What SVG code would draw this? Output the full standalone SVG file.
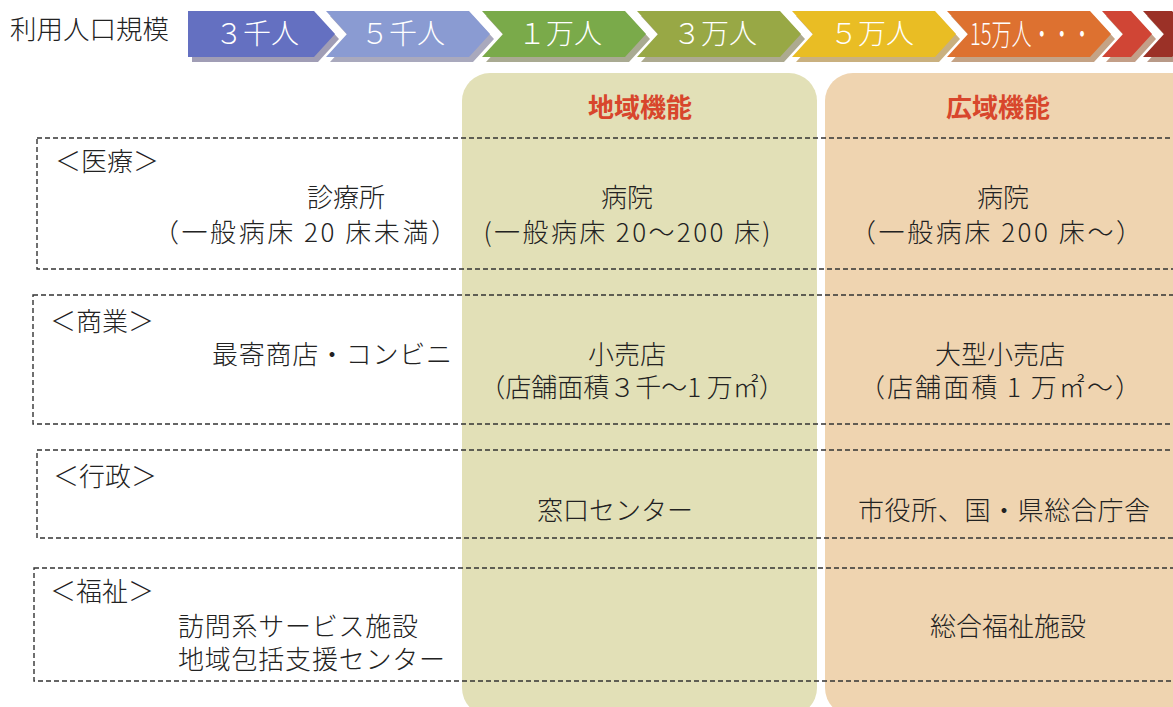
<svg xmlns="http://www.w3.org/2000/svg" width="1173" height="707" viewBox="0 0 1173 707">
<style>
.t{font-family:"Noto Sans CJK JP","Noto Sans",sans-serif;font-size:26px;font-weight:300;fill:#222;}
.c{text-anchor:middle;}
.w{font-family:"Noto Sans CJK JP","Noto Sans",sans-serif;font-size:28px;font-weight:300;fill:#fff;text-anchor:middle;}
.h{font-family:"Noto Sans CJK JP","Noto Sans",sans-serif;font-size:26px;font-weight:bold;fill:#D8462C;text-anchor:middle;}
.box{fill:none;stroke:#333;stroke-width:1.4;stroke-dasharray:5 3;}
</style>
<rect width="1173" height="707" fill="#fff"/>
<g id="columns">
<rect id="col-local" x="462" y="73" width="355" height="643" rx="28" fill="#E2E0B7"/>
<rect id="col-wide" x="825" y="73" width="380" height="643" rx="28" fill="#EFD4B0"/>
<text class="h" x="640" y="117">地域機能</text>
<text class="h" x="998" y="117">広域機能</text>
</g>
<g id="scale">
<text class="t" x="10" y="39" style="font-size:26.5px">利用人口規模</text>
<g id="shadows" transform="translate(4,5)">
<polygon fill="#A09DB5" points="188,11 314,11 335,34 314,57 188,57"/>
<polygon fill="#A9A9BD" points="326,11 469,11 490,34 469,57 326,57 347,34"/>
<polygon fill="#A9AA92" points="482,11 625,11 646,34 625,57 482,57 503,34"/>
<polygon fill="#ADAA90" points="637,11 780,11 801,34 780,57 637,57 658,34"/>
<polygon fill="#C9B07F" points="792,11 935,11 956,34 935,57 792,57 813,34"/>
<polygon fill="#C4A386" points="947,11 1090,11 1111,34 1090,57 947,57 968,34"/>
<polygon fill="#C39F88" points="1102,11 1131,11 1152,34 1131,57 1102,57 1123,34"/>
<polygon fill="#B89A88" points="1143,11 1172,11 1193,34 1172,57 1143,57 1164,34"/>
</g>
<g id="arrow1"><polygon fill="#6470C1" points="188,11 314,11 335,34 314,57 188,57"/><text class="w" x="257" y="44">３千人</text></g>
<g id="arrow2"><polygon fill="#8A9BD2" points="326,11 469,11 490,34 469,57 326,57 347,34"/><text class="w" x="403" y="44">５千人</text></g>
<g id="arrow3"><polygon fill="#7AAA4A" points="482,11 625,11 646,34 625,57 482,57 503,34"/><text class="w" x="560" y="44">１万人</text></g>
<g id="arrow4"><polygon fill="#98A845" points="637,11 780,11 801,34 780,57 637,57 658,34"/><text class="w" x="715" y="44">３万人</text></g>
<g id="arrow5"><polygon fill="#E9BD24" points="792,11 935,11 956,34 935,57 792,57 813,34"/><text class="w" x="872" y="44">５万人</text></g>
<g id="arrow6"><polygon fill="#DD7130" points="947,11 1090,11 1111,34 1090,57 947,57 968,34"/><text class="w" x="1031" y="45" textLength="122" lengthAdjust="spacingAndGlyphs" style="font-size:30px">15万人・・・</text></g>
<g id="arrow7"><polygon fill="#D04535" points="1102,11 1131,11 1152,34 1131,57 1102,57 1123,34"/></g>
<g id="arrow8"><polygon fill="#9B3127" points="1143,11 1172,11 1193,34 1172,57 1143,57 1164,34"/></g>
</g>
<g id="row-medical">
<rect class="box" x="37" y="138" width="1200" height="131"/>
<text class="t" x="55" y="171">＜医療＞</text>
<text class="t c" x="346" y="207">診療所</text>
<text class="t c" x="305" y="242" textLength="304">（一般病床 20 床未満）</text>
<text class="t c" x="627" y="207">病院</text>
<text class="t c" x="627" y="242" textLength="287">(一般病床 20～200 床)</text>
<text class="t c" x="1003" y="207">病院</text>
<text class="t c" x="996" y="242" textLength="292">（一般病床 200 床～）</text>
</g>
<g id="row-commerce">
<rect class="box" x="33" y="295" width="1200" height="129"/>
<text class="t" x="50" y="331">＜商業＞</text>
<text class="t c" x="332" y="364" textLength="240">最寄商店・コンビニ</text>
<text class="t c" x="627" y="364">小売店</text>
<text class="t c" x="632" y="397">（店舗面積３千～1 万㎡）</text>
<text class="t c" x="1000" y="364">大型小売店</text>
<text class="t c" x="1000" y="397" textLength="282">（店舗面積 1 万㎡～）</text>
</g>
<g id="row-admin">
<rect class="box" x="37" y="450" width="1200" height="88"/>
<text class="t" x="53" y="486">＜行政＞</text>
<text class="t c" x="615" y="520">窓口センター</text>
<text class="t c" x="1004" y="520" textLength="292">市役所、国・県総合庁舎</text>
</g>
<g id="row-welfare">
<rect class="box" x="34" y="568" width="1200" height="113"/>
<text class="t" x="50" y="601">＜福祉＞</text>
<text class="t" x="178" y="636" textLength="240">訪問系サービス施設</text>
<text class="t" x="178" y="669" textLength="267">地域包括支援センター</text>
<text class="t c" x="1008" y="636">総合福祉施設</text>
</g>
</svg>
